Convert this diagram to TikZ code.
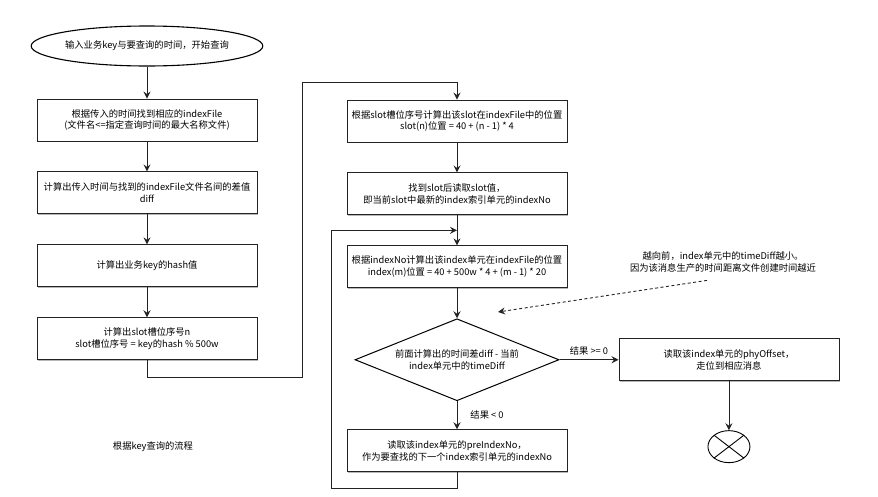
\documentclass[tikz,border=0pt]{standalone}
\usepackage{fontspec}
\setmainfont{Noto Sans CJK SC}
\usetikzlibrary{arrows.meta,positioning,shapes.geometric,shadows,calc}
\definecolor{linegray}{RGB}{35,35,35}
\definecolor{shadowgray}{RGB}{175,175,175}
\newcommand{\flowfont}{\fontsize{9.3}{11.7}\selectfont}
\tikzset{
  box/.style={
    rectangle,
    draw=linegray,
    line width=0.9pt,
    fill=white,
    align=center,
    minimum width=220pt,
    minimum height=42pt,
    inner xsep=1pt,
    font=\flowfont,
    drop shadow={shadow xshift=1.3pt, shadow yshift=-1.3pt, fill=shadowgray, opacity=0.9}
  },
  startnode/.style={
    ellipse,
    draw=black,
    line width=1.1pt,
    fill=white,
    inner sep=0pt,
    minimum width=220pt,
    minimum height=40pt,
    font=\flowfont
  },
  decision/.style={
    diamond,
    aspect=2.5,
    draw=black,
    line width=1pt,
    fill=white,
    align=center,
    inner sep=0pt,
    minimum width=204pt,
    minimum height=82pt,
    font=\flowfont
  },
  endnode/.style={
    ellipse,
    draw=black,
    line width=0.9pt,
    minimum width=42pt,
    minimum height=32pt
  },
  edgelabel/.style={font=\flowfont, inner sep=1pt},
  note/.style={align=center, inner sep=0pt, font=\flowfont},
  arrow/.style={-{Stealth[length=7pt,width=7pt,inset=2.5pt]}, line width=0.9pt, draw=linegray},
  hintarrow/.style={-{Stealth[length=7pt,width=7pt,inset=2.5pt]}, line width=0.9pt,
    draw=linegray, dash pattern=on 3pt off 2.5pt}
}

\begin{document}
\begin{tikzpicture}[x=1pt, y=-1pt, node distance=30pt]
    \useasboundingbox (0,0) rectangle (878,496);

    % left column
    \node[startnode] (begin) at (147,46) {输入业务key与要查询的时间，开始查询};
    \node[box, below=32pt of begin] (findfile) {根据传入的时间找到相应的indexFile\\(文件名<=指定查询时间的最大名称文件)};
    \node[box, below=of findfile] (diff) {计算出传入时间与找到的indexFile文件名间的差值\\diff};
    \node[box, below=of diff] (hash) {计算出业务key的hash值};
    \node[box, below=of hash] (slotno) {计算出slot槽位序号n\\slot槽位序号 = key的hash \% 500w};

    % middle column
    \node[box] (slotpos) at (457,121) {根据slot槽位序号计算出该slot在indexFile中的位置\\slot(n)位置 = 40 + (n - 1) * 4};
    \node[box, below=of slotpos] (slotval) {找到slot后读取slot值，\\即当前slot中最新的index索引单元的indexNo};
    \node[box, below=of slotval] (indexpos) {根据indexNo计算出该index单元在indexFile的位置\\index(m)位置 = 40 + 500w * 4 + (m - 1) * 20};
    \node[decision, below=of indexpos] (compare) {前面计算出的时间差diff - 当前\\index单元中的timeDiff};
    \node[box, below=28pt of compare] (preindex) {读取该index单元的preIndexNo，\\作为要查找的下一个index索引单元的indexNo};

    % right column
    \node[box, right=59pt of compare] (phyoffset) {读取该index单元的phyOffset，\\走位到相应消息};
    \node[endnode, below=49pt of phyoffset] (finish) {};
    \draw[line width=0.9pt] (finish.north west) -- (finish.south east);
    \draw[line width=0.9pt] (finish.north east) -- (finish.south west);

    \node[note] (tip) at (723,262) {越向前，index单元中的timeDiff越小。\\因为该消息生产的时间距离文件创建时间越近};
    \node[note] (caption) at (153,447) {根据key查询的流程};

    \coordinate (merge) at ($(slotval.south)!0.5!(indexpos.north)$);
    \coordinate (hintend) at (498,312);

    \draw[arrow] (begin) -- (findfile);
    \draw[arrow] (findfile) -- (diff);
    \draw[arrow] (diff) -- (hash);
    \draw[arrow] (hash) -- (slotno);
    \draw[arrow] (slotno.south) -- ++(0,17) -- ++(155,0) |- ([yshift=17pt]slotpos.north) -- (slotpos.north);
    \draw[arrow] (slotpos) -- (slotval);
    \draw[arrow] (slotval) -- (indexpos);
    \draw[arrow] (indexpos) -- (compare);
    \draw[arrow] (compare) -- node[edgelabel, right=12pt] {结果 < 0} (preindex);
    \draw[arrow] (compare) -- node[edgelabel, above=3pt] {结果 >= 0} (phyoffset);
    \draw[arrow] (preindex.south) -- ++(0,16) -| ([xshift=-126pt]merge) -- (merge);
    \draw[arrow] (phyoffset) -- (finish);
    \draw[hintarrow] ([xshift=-16pt,yshift=-8pt]tip.south) -- (hintend);
\end{tikzpicture}
\end{document}
